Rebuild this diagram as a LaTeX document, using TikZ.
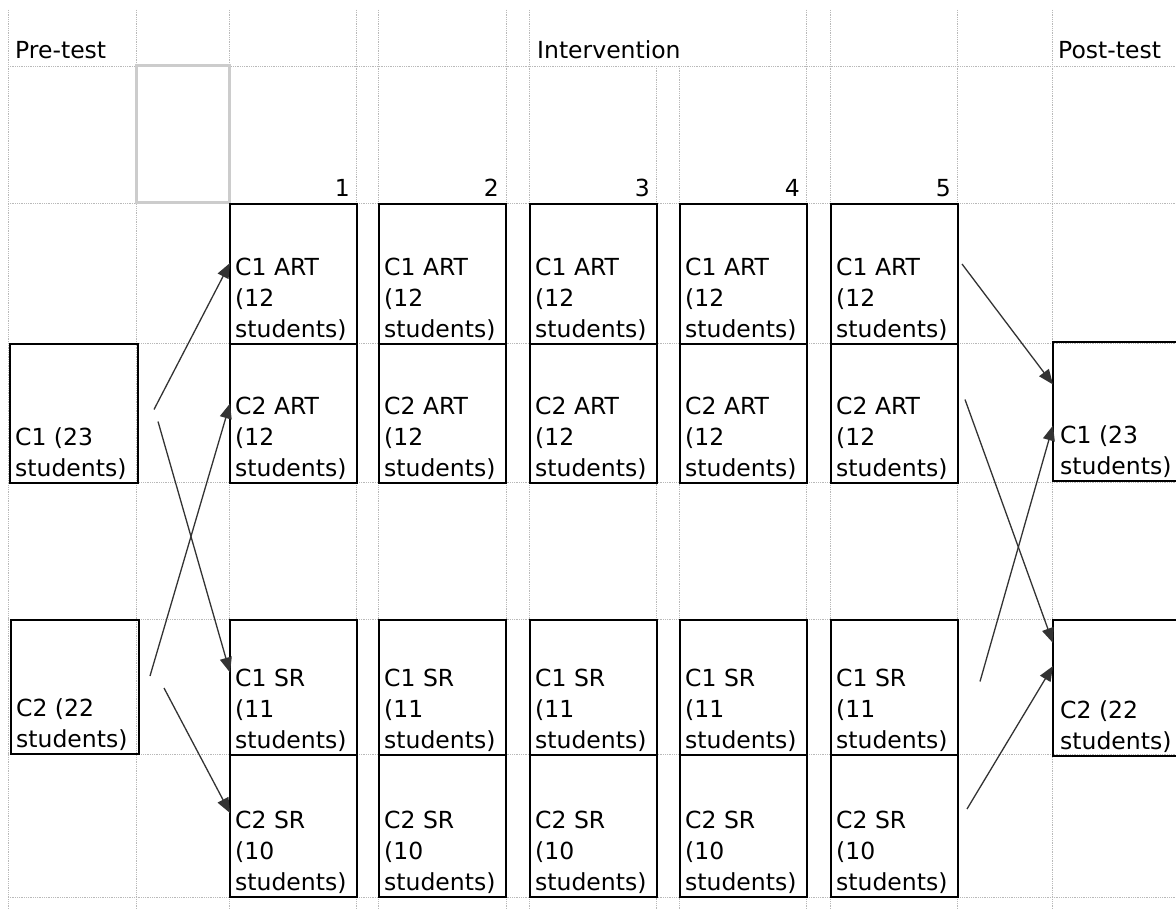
\documentclass[tikz,border=0pt]{standalone}
\usepackage{fontspec}
\setmainfont{DejaVu Sans}
\usetikzlibrary{arrows.meta}

\tikzset{
  cellbox/.style={draw=black, line width=2pt, minimum width=127pt, inner sep=0pt, anchor=north west},
  celltext/.style={anchor=south west, align=left, inner sep=0pt, font=\fontsize{23.5}{31}\selectfont},
  headtext/.style={anchor=base west, inner sep=0pt, font=\fontsize{23.5}{31}\selectfont},
  daytext/.style={anchor=base east, inner sep=0pt, font=\fontsize{23.5}{31}\selectfont},
  flow/.style={draw=black!80, line width=1.3pt, -{Triangle[length=15pt,width=12pt]}},
  gridline/.style={gray!55, densely dotted, line width=0.8pt}
}

\begin{document}
\begin{tikzpicture}[x=1pt,y=-1pt]
  \useasboundingbox (0,0) rectangle (1176,909);
  \fill[white] (0,0) rectangle (1176,909);
  \clip (0,0) rectangle (1176,909);

  \foreach \x in {8,136,229,356,378,506,529,806,830,957,1052}
    \draw[gridline] (\x,10) -- (\x,909);
  \foreach \x in {656,679}
    \draw[gridline] (\x,66) -- (\x,909);
  \foreach \y in {66,203,343,482,619,754,897}
    \draw[gridline] (8,\y) -- (1176,\y);
  \draw[gray!40, line width=3pt] (136,66) rectangle (229,203);

  \node[headtext] (hpre) at (15,59) {Pre-test};
  \node[headtext] (hint) at (537,59) {Intervention};
  \node[headtext] (hpost) at (1058,59) {Post-test};

  \node[cellbox, minimum width=128pt, minimum height=139pt] (pre1) at (9,343) {};
  \node[cellbox, minimum width=128pt, minimum height=134pt] (pre2) at (10,619) {};
  \node[celltext] (pre1t) at ([shift={(6,-4)}]pre1.south west) {C1 (23\\students)};
  \node[celltext] (pre2t) at ([shift={(6,-4)}]pre2.south west) {C2 (22\\students)};

  \foreach \k/\x in {1/229,2/378,3/529,4/679,5/830} {
    \node[cellbox, minimum height=140pt] (art1\k) at (\x,203) {};
    \node[cellbox, minimum height=139pt] (art2\k) at (\x,343) {};
    \node[cellbox, minimum height=135pt] (sr1\k) at (\x,619) {};
    \node[cellbox, minimum height=142pt] (sr2\k) at (\x,754) {};
    \node[celltext] (art1\k t) at ([shift={(6,-4)}]art1\k.south west) {C1 ART\\(12\\students)};
    \node[celltext] (art2\k t) at ([shift={(6,-4)}]art2\k.south west) {C2 ART\\(12\\students)};
    \node[celltext] (sr1\k t) at ([shift={(6,-4)}]sr1\k.south west) {C1 SR\\(11\\students)};
    \node[celltext] (sr2\k t) at ([shift={(6,-4)}]sr2\k.south west) {C2 SR\\(10\\students)};
    \node[daytext] (day\k) at ([shift={(-8,-6)}]art1\k.north east) {\k};
  }

  \node[cellbox, minimum width=140pt, minimum height=139pt] (post1) at (1052,341) {};
  \node[cellbox, minimum width=140pt, minimum height=136pt] (post2) at (1052,619) {};
  \node[celltext] (post1t) at ([shift={(8,-4)}]post1.south west) {C1 (23\\students)};
  \node[celltext] (post2t) at ([shift={(8,-4)}]post2.south west) {C2 (22\\students)};

  \draw[flow] ([shift={(15,-4)}]pre1.east) -- ([shift={(1,-11)}]art11.west);
  \draw[flow] ([shift={(19,8)}]pre1.east) -- ([shift={(1,-15)}]sr11.west);
  \draw[flow] ([shift={(10,-11)}]pre2.east) -- ([shift={(1,-10)}]art21.west);
  \draw[flow] ([shift={(24,1)}]pre2.east) -- ([shift={(1,-13)}]sr21.west);

  \draw[flow] ([shift={(3,-10)}]art15.east) -- ([shift={(1,-27)}]post1.west);
  \draw[flow] ([shift={(6,-14)}]art25.east) -- ([shift={(1,-45)}]post2.west);
  \draw[flow] ([shift={(21,-6)}]sr15.east) -- ([shift={(1,14)}]post1.west);
  \draw[flow] ([shift={(8,-17)}]sr25.east) -- ([shift={(1,-22)}]post2.west);
\end{tikzpicture}
\end{document}
